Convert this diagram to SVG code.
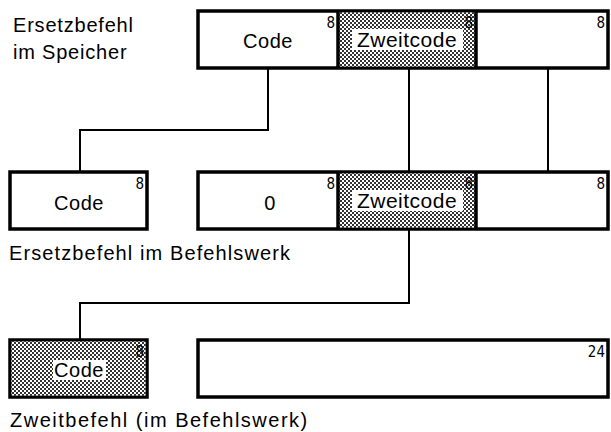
<svg xmlns="http://www.w3.org/2000/svg" width="611" height="432" viewBox="0 0 611 432">
<defs>
<pattern id="dots" width="4" height="4" patternUnits="userSpaceOnUse">
<rect width="4" height="4" fill="#fff"/>
<rect x="0" y="0" width="2" height="2" fill="#333"/>
<rect x="2" y="2" width="2" height="2" fill="#333"/>
</pattern>
</defs>
<style>
.box{fill:#fff;stroke:#000;stroke-width:3.5}
.sh{fill:url(#dots);stroke:none}
.div{stroke:#000;stroke-width:3.5}
.con{fill:none;stroke:#000;stroke-width:2}
.t{font-family:"Liberation Sans",Arial,sans-serif;font-size:20px;fill:#000}
.c{text-anchor:middle;letter-spacing:0.5px}
.lbl{letter-spacing:0.8px}
.n{font-family:"DejaVu Sans Condensed","Liberation Sans Narrow","Liberation Sans",Arial,sans-serif;font-size:15px;fill:#000;text-anchor:end}
.wb{fill:#fff;stroke:none}
</style>
<g id="connectors">
<polyline class="con" points="268,68 268,130 80,130 80,172"/>
<line class="con" x1="409" y1="68" x2="409" y2="172"/>
<line class="con" x1="548" y1="68" x2="548" y2="172"/>
<polyline class="con" points="409,229 409,303 80,303 80,340"/>
</g>
<g id="label-speicher">
<text class="t lbl" x="13" y="32">Ersetzbefehl</text>
<text class="t lbl" x="13" y="59">im Speicher</text>
</g>
<g id="row1">
<rect class="box" x="198" y="11" width="410" height="57"/>
<rect class="sh" x="339" y="12.5" width="136" height="54"/>
<line class="div" x1="338" y1="11" x2="338" y2="68"/>
<line class="div" x1="476" y1="11" x2="476" y2="68"/>
<rect class="wb" x="352" y="29" width="111" height="21"/>
<text class="t c" x="407" y="47" style="font-size:21px">Zweitcode</text>
<text class="t c" x="268" y="48">Code</text>
<text class="n" x="335" y="28">8</text>
<text class="n" x="473" y="28">8</text>
<text class="n" x="605" y="28">8</text>
</g>
<g id="row2-code">
<rect class="box" x="10" y="172" width="137" height="57"/>
<text class="t c" x="79" y="210">Code</text>
<text class="n" x="144" y="189">8</text>
</g>
<g id="row2">
<rect class="box" x="198" y="172" width="410" height="57"/>
<rect class="sh" x="339" y="173.5" width="136" height="54"/>
<line class="div" x1="338" y1="172" x2="338" y2="229"/>
<line class="div" x1="476" y1="172" x2="476" y2="229"/>
<rect class="wb" x="352" y="190" width="111" height="21"/>
<text class="t c" x="270" y="210">0</text>
<text class="t c" x="407" y="208" style="font-size:21px">Zweitcode</text>
<text class="n" x="335" y="189">8</text>
<text class="n" x="473" y="189">8</text>
<text class="n" x="605" y="189">8</text>
</g>
<g id="label-befehlswerk">
<text class="t" x="9" y="260" style="letter-spacing:1.1px">Ersetzbefehl im Befehlswerk</text>
</g>
<g id="row3-code">
<rect class="box" x="10" y="340" width="137" height="57"/>
<rect class="sh" x="11.5" y="341.5" width="134" height="54"/>
<rect class="wb" x="53" y="360" width="53" height="20"/>
<text class="t c" x="79" y="377">Code</text>
<text class="n" x="144" y="357">8</text>
</g>
<g id="row3">
<rect class="box" x="198" y="340" width="410" height="57"/>
<text class="n" x="605" y="357">24</text>
</g>
<g id="label-zweitbefehl">
<text class="t" x="10" y="427" style="letter-spacing:1.5px">Zweitbefehl (im Befehlswerk)</text>
</g>
</svg>
